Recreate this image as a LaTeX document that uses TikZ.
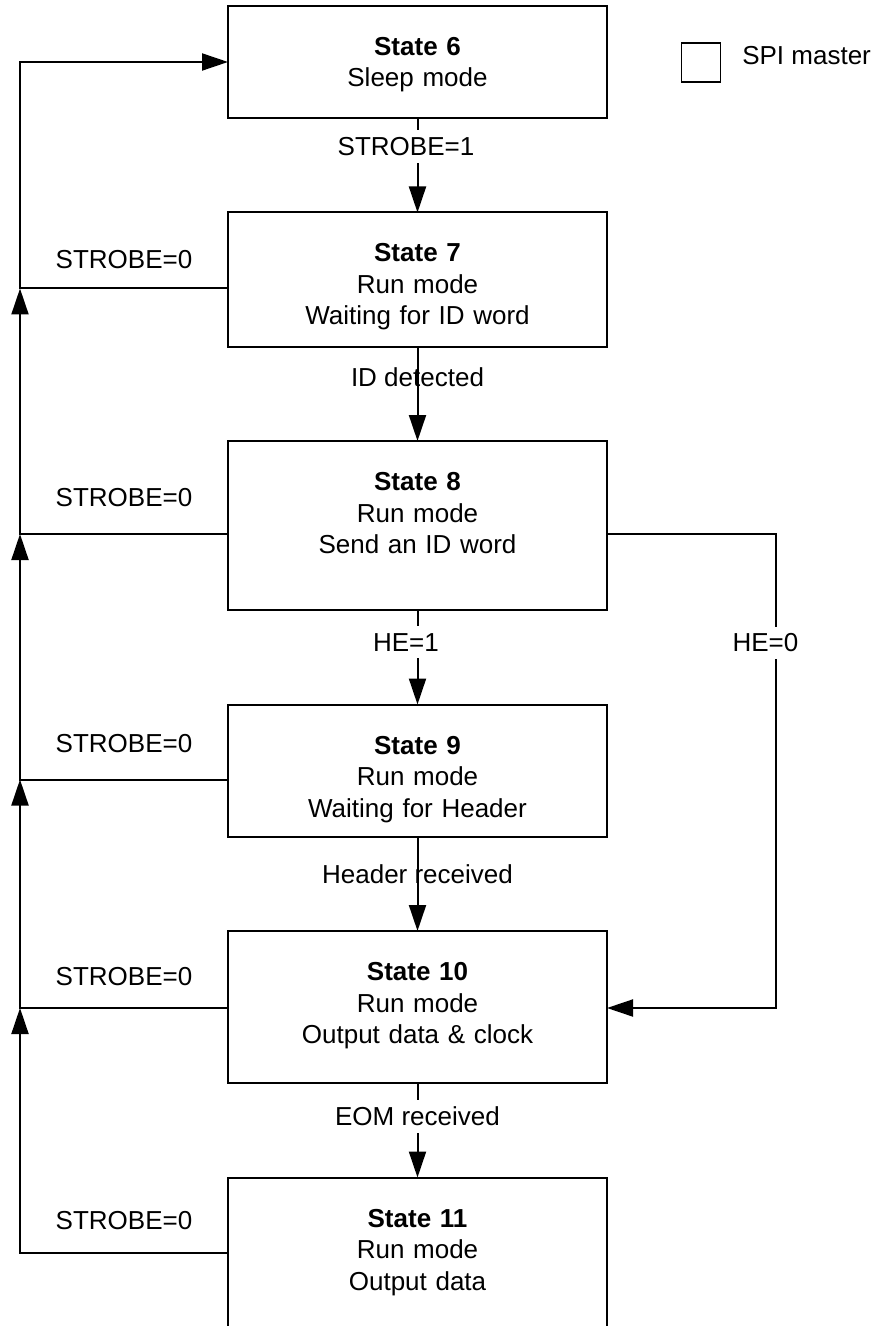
\documentclass[tikz,border=0pt]{standalone}
\usepackage{fontspec}
\setmainfont{Liberation Sans}
\usetikzlibrary{arrows.meta,positioning}

\begin{document}
\begin{tikzpicture}[
  x=0.5pt, y=-0.5pt,
  line width=1pt,
  node distance=47.25pt,
  state/.style={rectangle, draw, align=center, text width=189.5pt, inner sep=0pt, outer sep=0pt, text height=24.75pt, font=\fontsize{13pt}{15.75pt}\selectfont},
  cond/.style={font=\fontsize{13pt}{15.75pt}\selectfont, inner xsep=2pt, inner ysep=3.5pt},
  gapcond/.style={cond, fill=white},
  arrow/.style={-{Triangle[length=13pt,width=8.5pt]}}
]
\useasboundingbox (0,0) rectangle (875,1326);

\node[state, anchor=north, text depth=31.25pt] (st6) at (417.5,6) {\textbf{State 6}\\Sleep mode};
\node[state, below=of st6, text depth=42.25pt] (st7) {\textbf{State 7}\\Run mode\\Waiting for ID word};
\node[state, below=of st7, text depth=59.75pt] (st8) {\textbf{State 8}\\Run mode\\Send an ID word};
\node[state, below=of st8, text depth=41.25pt] (st9) {\textbf{State 9}\\Run mode\\Waiting for Header};
\node[state, below=of st9, text depth=51.25pt] (st10) {\textbf{State 10}\\Run mode\\Output data \& clock};
\node[state, below=of st10, text depth=75pt] (st11) {\textbf{State 11}\\Run mode\\Output data};

% legend
\node[draw, line width=0.8pt, minimum size=19.5pt, inner sep=0pt] (key) at (701,62.5) {};
\node[cond, anchor=base west, inner sep=0pt] (keytext) at ([xshift=10pt,yshift=-1.25pt]key.east) {SPI master};

% forward transitions
\draw[arrow] (st6) -- node[gapcond, pos=0.3, xshift=-5.75pt] {STROBE=1} (st7);
\draw[arrow] (st7) -- node[cond, pos=0.32] {ID detected} (st8);
\draw[arrow] (st8) -- node[gapcond, pos=0.34, xshift=-5.75pt] {HE=1} (st9);
\draw[arrow] (st9) -- node[cond, pos=0.4] {Header received} (st10);
\draw[arrow] (st10) -- node[gapcond, pos=0.35] {EOM received} (st11);

% STROBE=0 return bus
\coordinate (bus) at (20,0);
\foreach \n/\d in {7/38,8/46.5,9/37.5,10/38.5,11/37.5}
  \coordinate (j\n) at ([yshift=-\d pt]st\n.north west);
\draw[arrow] (j7) -- node[cond, above=9.5pt, inner sep=0pt] {STROBE=0} (j7 -| bus) |- (st6);
\foreach \n/\m/\l in {8/7/13pt,9/8/13pt,10/9/10.5pt,11/10/11pt}
  \draw[arrow] (j\n) -- node[cond, above=\l, inner sep=0pt] {STROBE=0} (j\n -| bus) -- (j\m -| bus);

% HE=0 skip
\coordinate (r8) at ([yshift=-46.5pt]st8.north east);
\coordinate (r10) at ([yshift=-38.5pt]st10.north east);
\draw[arrow] (r8) -- ++(84.5pt,0) |- node[gapcond, pos=0.115, xshift=-5.25pt] {HE=0} (r10);
\end{tikzpicture}
\end{document}
